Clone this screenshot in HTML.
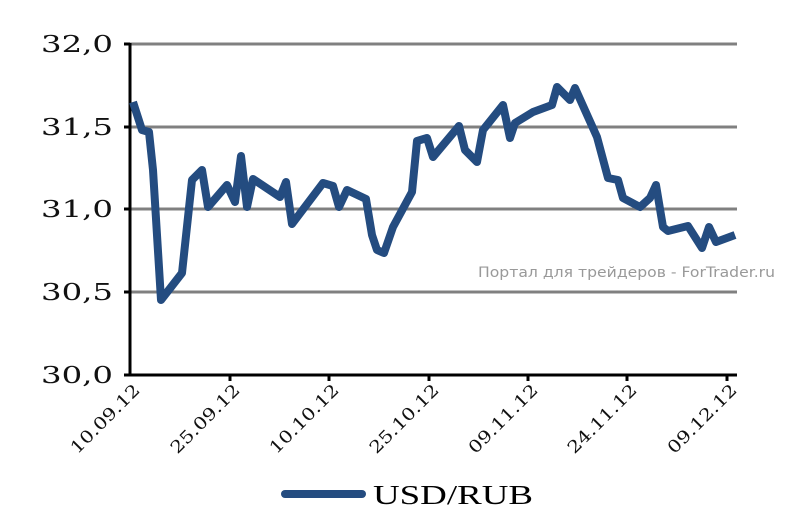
<!DOCTYPE html>
<html><head><meta charset="utf-8"><style>
body{margin:0;background:#fff;width:794px;height:525px;overflow:hidden}
</style></head><body>
<svg width="794" height="525" xmlns="http://www.w3.org/2000/svg">
<g stroke="#808080" stroke-width="3">
<line x1="130" y1="44" x2="737" y2="44"/>
<line x1="130" y1="127" x2="737" y2="127"/>
<line x1="130" y1="209" x2="737" y2="209"/>
<line x1="130" y1="292" x2="737" y2="292"/>
</g>
<g stroke="#000" stroke-width="3">
<line x1="130" y1="43" x2="130" y2="376"/>
<line x1="129" y1="375" x2="737" y2="375"/>
<line x1="124" y1="44" x2="130" y2="44"/>
<line x1="124" y1="127" x2="130" y2="127"/>
<line x1="124" y1="209" x2="130" y2="209"/>
<line x1="124" y1="292" x2="130" y2="292"/>
<line x1="124" y1="375" x2="130" y2="375"/>
<line x1="230" y1="375" x2="230" y2="381"/>
<line x1="329" y1="375" x2="329" y2="381"/>
<line x1="429" y1="375" x2="429" y2="381"/>
<line x1="528" y1="375" x2="528" y2="381"/>
<line x1="627" y1="375" x2="627" y2="381"/>
<line x1="727" y1="375" x2="727" y2="381"/>
</g>
<g font-family="DejaVu Serif, serif" font-size="23" fill="#111">
<text x="41" y="52" textLength="72" lengthAdjust="spacingAndGlyphs">32,0</text>
<text x="41" y="135" textLength="72" lengthAdjust="spacingAndGlyphs">31,5</text>
<text x="41" y="217" textLength="72" lengthAdjust="spacingAndGlyphs">31,0</text>
<text x="41" y="300" textLength="72" lengthAdjust="spacingAndGlyphs">30,5</text>
<text x="41" y="383" textLength="72" lengthAdjust="spacingAndGlyphs">30,0</text>
</g>
<g font-family="DejaVu Serif, serif" font-size="17" text-anchor="end" fill="#111">
<text transform="translate(141,391) rotate(-45)" textLength="90" lengthAdjust="spacingAndGlyphs">10.09.12</text>
<text transform="translate(241,391) rotate(-45)" textLength="90" lengthAdjust="spacingAndGlyphs">25.09.12</text>
<text transform="translate(340,391) rotate(-45)" textLength="90" lengthAdjust="spacingAndGlyphs">10.10.12</text>
<text transform="translate(440,391) rotate(-45)" textLength="90" lengthAdjust="spacingAndGlyphs">25.10.12</text>
<text transform="translate(539,391) rotate(-45)" textLength="90" lengthAdjust="spacingAndGlyphs">09.11.12</text>
<text transform="translate(638,391) rotate(-45)" textLength="90" lengthAdjust="spacingAndGlyphs">24.11.12</text>
<text transform="translate(738,391) rotate(-45)" textLength="90" lengthAdjust="spacingAndGlyphs">09.12.12</text>
</g>
<text x="478" y="277" font-family="DejaVu Sans, sans-serif" font-size="14" fill="#999" textLength="297" lengthAdjust="spacingAndGlyphs">Портал для трейдеров - ForTrader.ru</text>
<polyline fill="none" stroke="#244c80" stroke-width="8" stroke-linejoin="round" points="133,102 142,130 149,132 153,170 161,300 182,273 192,180 202,170 208,207 227,185 235,202 241,156 247,207 253,179 280,197 286,182 292,224 323,183 333,186 339,207 347,190 366,199 372,235 377,250 384,253 393,227 412,192 417,141 427,138 433,157 459,126 465,150 477,162 483,130 503,105 510,138 515,123 533,112 552,105 557,87 570,100 575,88 597,137 608,178 618,180 623,198 640,207 650,198 656,185 663,227 668,231 688,226 702,248 709,227 716,242 735,235"/>
<line x1="285" y1="494" x2="362" y2="494" stroke="#244c80" stroke-width="8" stroke-linecap="round"/>
<text x="373" y="504" font-family="Liberation Serif, serif" font-size="27" fill="#000" textLength="160" lengthAdjust="spacingAndGlyphs">USD/RUB</text>
</svg>
</body></html>
